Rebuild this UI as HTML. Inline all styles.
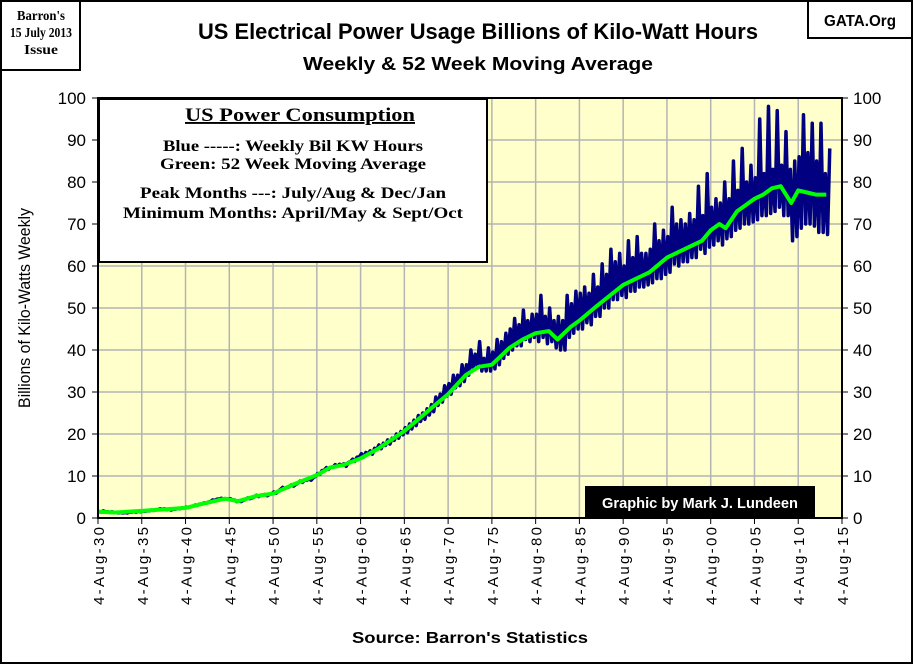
<!DOCTYPE html>
<html><head><meta charset="utf-8"><style>
html,body{margin:0;padding:0;background:#fff}
svg{display:block}
</style></head><body>
<svg id="chart" width="913" height="664" viewBox="0 0 913 664" xmlns="http://www.w3.org/2000/svg">
<rect x="1" y="1" width="911" height="662" fill="#fff" stroke="#000" stroke-width="2"/>
<g>
<rect x="1" y="1" width="79" height="69" fill="#fff" stroke="#000" stroke-width="2"/>
<text x="41" y="20" font-family="Liberation Serif, serif" font-weight="bold" font-size="14" text-anchor="middle" textLength="48" lengthAdjust="spacingAndGlyphs">Barron's</text>
<text x="41" y="37" font-family="Liberation Serif, serif" font-weight="bold" font-size="14" text-anchor="middle" textLength="62" lengthAdjust="spacingAndGlyphs">15 July 2013</text>
<text x="41" y="54" font-family="Liberation Serif, serif" font-weight="bold" font-size="14" text-anchor="middle" textLength="34" lengthAdjust="spacingAndGlyphs">Issue</text>
</g>
<g>
<rect x="808" y="1" width="104" height="37" fill="#fff" stroke="#000" stroke-width="2"/>
<text x="860" y="26" font-family="Liberation Sans, sans-serif" font-weight="bold" font-size="16" text-anchor="middle" textLength="72" lengthAdjust="spacingAndGlyphs">GATA.Org</text>
</g>
<text x="478" y="39" font-family="Liberation Sans, sans-serif" font-weight="bold" font-size="22" text-anchor="middle" textLength="560" lengthAdjust="spacingAndGlyphs">US Electrical Power Usage Billions of Kilo-Watt Hours</text>
<text x="478" y="70" font-family="Liberation Sans, sans-serif" font-weight="bold" font-size="18" text-anchor="middle" textLength="350" lengthAdjust="spacingAndGlyphs">Weekly &amp; 52 Week Moving Average</text>
<rect x="98" y="98" width="744" height="420" fill="#ffffcc"/>
<g id="grid"></g>
<g id="series"></g>
<g id="axes"></g>
<g>
<rect x="99" y="99" width="388" height="163" fill="#fff" stroke="#000" stroke-width="2"/>
<text x="300" y="121" font-family="Liberation Serif, serif" font-weight="bold" font-size="19" text-anchor="middle" text-decoration="underline" textLength="230" lengthAdjust="spacingAndGlyphs">US Power Consumption</text>
<text x="293" y="151" font-family="Liberation Serif, serif" font-weight="bold" font-size="16" text-anchor="middle" textLength="260" lengthAdjust="spacingAndGlyphs">Blue -----: Weekly Bil KW Hours</text>
<text x="293" y="169" font-family="Liberation Serif, serif" font-weight="bold" font-size="16" text-anchor="middle" textLength="266" lengthAdjust="spacingAndGlyphs">Green: 52 Week Moving Average</text>
<text x="293" y="198" font-family="Liberation Serif, serif" font-weight="bold" font-size="16" text-anchor="middle" textLength="306" lengthAdjust="spacingAndGlyphs">Peak Months ---: July/Aug &amp; Dec/Jan</text>
<text x="293" y="218" font-family="Liberation Serif, serif" font-weight="bold" font-size="16" text-anchor="middle" textLength="340" lengthAdjust="spacingAndGlyphs">Minimum Months: April/May &amp; Sept/Oct</text>
</g>
<g>
<rect x="585" y="486" width="230" height="32" fill="#000"/>
<text x="700" y="508" font-family="Liberation Sans, sans-serif" font-weight="bold" font-size="15" fill="#fff" text-anchor="middle" textLength="196" lengthAdjust="spacingAndGlyphs">Graphic by Mark J. Lundeen</text>
</g>
<text x="30" y="308" transform="rotate(-90 30 308)" font-family="Liberation Sans, sans-serif" font-size="17" text-anchor="middle" textLength="200" lengthAdjust="spacingAndGlyphs">Billions of Kilo-Watts Weekly</text>
<text x="470" y="643" font-family="Liberation Sans, sans-serif" font-weight="bold" font-size="16" text-anchor="middle" textLength="236" lengthAdjust="spacingAndGlyphs">Source:  Barron's Statistics</text>
</svg>
<script>
const xTickLabels = ["4-Aug-30","4-Aug-35","4-Aug-40","4-Aug-45","4-Aug-50","4-Aug-55","4-Aug-60","4-Aug-65","4-Aug-70","4-Aug-75","4-Aug-80","4-Aug-85","4-Aug-90","4-Aug-95","4-Aug-00","4-Aug-05","4-Aug-10","4-Aug-15"];
const xTickYears = [1930,1935,1940,1945,1950,1955,1960,1965,1970,1975,1980,1985,1990,1995,2000,2005,2010,2015];
const yTicks = [0,10,20,30,40,50,60,70,80,90,100];
const blueStartYear = 1930.1;
// weekly series sampled quarterly: winter peak, spring trough, summer peak, fall trough
const blueValues = [
1.6,1.4,1.7,1.5, 1.5,1.3,1.5,1.3, 1.3,1.2,1.3,1.2, 1.3,1.2,1.4,1.4, 1.5,1.4,1.6,1.5,
1.7,1.6,1.7,1.7, 1.9,1.8,2.0,2.0, 2.2,2.1,2.2,2.0, 2.1,1.9,2.1,2.1, 2.3,2.2,2.4,2.4,
2.6,2.5,2.7,2.8, 3.1,3.0,3.3,3.3, 3.6,3.5,3.8,3.9, 4.3,4.2,4.5,4.5, 4.7,4.5,4.6,4.5,
4.6,4.3,4.3,3.9, 4.1,3.9,4.2,4.4, 4.8,4.6,4.8,5.0, 5.4,5.1,5.4,5.5, 5.6,5.3,5.6,5.8,
6.2,5.9,6.4,6.8, 7.3,7.0,7.3,7.4, 7.9,7.6,8.0,8.3, 8.8,8.5,9.0,9.0, 9.3,9.0,9.6,9.9,
10.6,10.4,11.3,11.4, 12.0,11.6,12.1,12.1, 12.7,12.3,12.8,12.6, 12.9,12.3,13.2,13.4, 14.0,13.5,14.5,14.5,
15.3,14.5,15.6,15.3, 16.0,15.2,16.6,16.3, 17.4,16.5,17.8,17.3, 18.6,17.6,19.0,18.5, 20.0,19.0,20.6,19.8,
21.5,20.3,22.4,21.2, 23.3,22.0,24.4,23.0, 25.0,23.5,26.0,24.5, 27.0,25.3,28.8,26.8, 29.5,27.6,31.5,29.0,
32.0,29.5,34.0,31.0, 34.0,31.5,36.5,32.5, 36.5,34.0,40.0,35.5, 39.0,36.0,42.0,35.0, 38.0,35.0,40.5,35.0,
39.5,35.5,42.5,36.5, 42.0,38.0,44.0,39.0, 45.0,40.0,47.5,41.0, 46.0,41.0,49.5,42.5, 47.0,42.0,48.5,43.0,
48.5,42.0,53.0,43.0, 48.0,41.5,50.0,42.0, 47.0,40.5,48.0,40.0, 47.0,40.0,53.0,43.0, 51.0,44.0,54.0,45.0,
53.5,45.0,55.0,46.5, 53.5,46.0,58.0,48.0, 55.0,48.0,60.5,50.0, 58.0,50.0,64.0,52.0, 61.0,52.0,63.0,53.0,
60.0,52.5,66.0,54.0, 62.0,54.0,67.0,55.0, 63.0,55.0,63.0,55.5, 64.0,56.0,70.0,57.0, 66.0,57.0,68.5,58.0,
67.0,58.5,74.0,60.5, 70.0,60.0,71.0,61.0, 70.0,61.0,72.5,62.0, 71.0,62.0,79.0,64.0, 72.0,63.0,82.0,64.5,
74.0,65.0,76.0,66.0, 75.0,65.0,80.0,66.5, 76.0,67.0,85.0,68.5, 78.0,69.0,88.0,70.0, 80.0,70.0,84.0,70.5,
81.0,71.0,95.0,72.0, 82.0,72.0,98.0,72.5, 83.0,73.0,97.0,74.0, 84.0,72.0,92.0,72.0, 83.0,66.0,85.0,67.0,
86.0,69.0,96.0,70.0, 87.0,70.0,94.0,69.5, 85.0,68.0,94.0,68.0, 82.0,67.5,88.0
];
const maYears = [1930,1932,1935,1938,1940,1942,1944.5,1946,1948,1950,1952,1955,1956.5,1958,1960,1962,1965,1968,1970,1972,1973.5,1975,1977,1978.5,1980,1981.5,1982.5,1984,1985,1987,1990,1992,1993,1995,1997,1999,2000,2001,2001.7,2003,2004,2005,2006,2007,2008,2009.2,2010,2011,2012,2013.2];
const maValues = [1.5,1.3,1.7,2.1,2.4,3.4,4.6,4.0,5.2,5.8,7.7,10.2,12.0,12.6,14.2,16.5,20.7,26.0,29.5,34.0,36.0,36.5,40.5,42.5,44.0,44.5,42.5,45.5,47.0,50.5,55.5,57.5,58.5,62.0,64.0,66.0,68.5,70.0,69.0,73.0,74.5,76.0,77.0,78.5,79.0,75.0,78.0,77.5,77.0,77.0];

const NS = "http://www.w3.org/2000/svg";
const X0 = 98, X1 = 842, Y0 = 518, Y1 = 98;
function xs(year){ return X0 + (year - 1930) / (2015 - 1930) * (X1 - X0); }
function ys(v){ return Y0 - v / 100 * (Y0 - Y1); }
function mk(tag, attrs, parent){ const e = document.createElementNS(NS, tag); for (const k in attrs) e.setAttribute(k, attrs[k]); parent.appendChild(e); return e; }

const grid = document.getElementById('grid');
const axes = document.getElementById('axes');
const series = document.getElementById('series');

xTickYears.forEach((yr, i) => {
  const x = xs(yr);
  if (i > 0 && i < xTickYears.length - 1) {
    const g = mk('line', {x1:x, x2:x, y1:Y1, y2:Y0, stroke:'#b4b4b4', 'stroke-width':1.5}, grid);
    
    
  }
  const t = mk('line', {x1:x, x2:x, y1:Y0, y2:Y0+6, stroke:'#000', 'stroke-width':1}, axes);
  
  
  const lbl = mk('text', {x:x+6, y:Y0+9, transform:`rotate(-90 ${x+6} ${Y0+9})`, 'text-anchor':'end', 'font-family':'Liberation Sans, sans-serif', 'font-size':'15', textLength:'78', lengthAdjust:'spacing'}, axes);
  lbl.textContent = xTickLabels[i];
  
  
});
yTicks.forEach(v => {
  const y = ys(v);
  if (v > 0 && v < 100) {
    const g = mk('line', {x1:X0, x2:X1, y1:y, y2:y, stroke:'#b4b4b4', 'stroke-width':1.5}, grid);
    
    
  }
  mk('line', {x1:X0-6, x2:X0, y1:y, y2:y, stroke:'#000'}, axes);
  mk('line', {x1:X1, x2:X1+6, y1:y, y2:y, stroke:'#000'}, axes);
  const l = mk('text', {x:X0-12, y:y+6, 'text-anchor':'end', 'font-family':'Liberation Sans, sans-serif', 'font-size':'17'}, axes);
  l.textContent = v;
  
  
  const r = mk('text', {x:X1+11, y:y+6, 'text-anchor':'start', 'font-family':'Liberation Sans, sans-serif', 'font-size':'17'}, axes);
  r.textContent = v;
  
  
});
const frame = mk('rect', {x:X0, y:Y1, width:X1-X0, height:Y0-Y1, fill:'none', stroke:'#000', 'stroke-width':2}, axes);



const bluePts = blueValues.map((v, i) => xs(blueStartYear + i * 0.25).toFixed(2) + ',' + ys(v).toFixed(2)).join(' ');
const blue = mk('polyline', {points:bluePts, fill:'none', stroke:'#000080', 'stroke-width':3.5, 'stroke-linejoin':'round'}, series);


const maPts = maYears.map((yr, i) => xs(yr).toFixed(2) + ',' + ys(maValues[i]).toFixed(2)).join(' ');
const green = mk('polyline', {points:maPts, fill:'none', stroke:'#00ff00', 'stroke-width':4, 'stroke-linejoin':'round'}, series);


</script>
</body></html>
